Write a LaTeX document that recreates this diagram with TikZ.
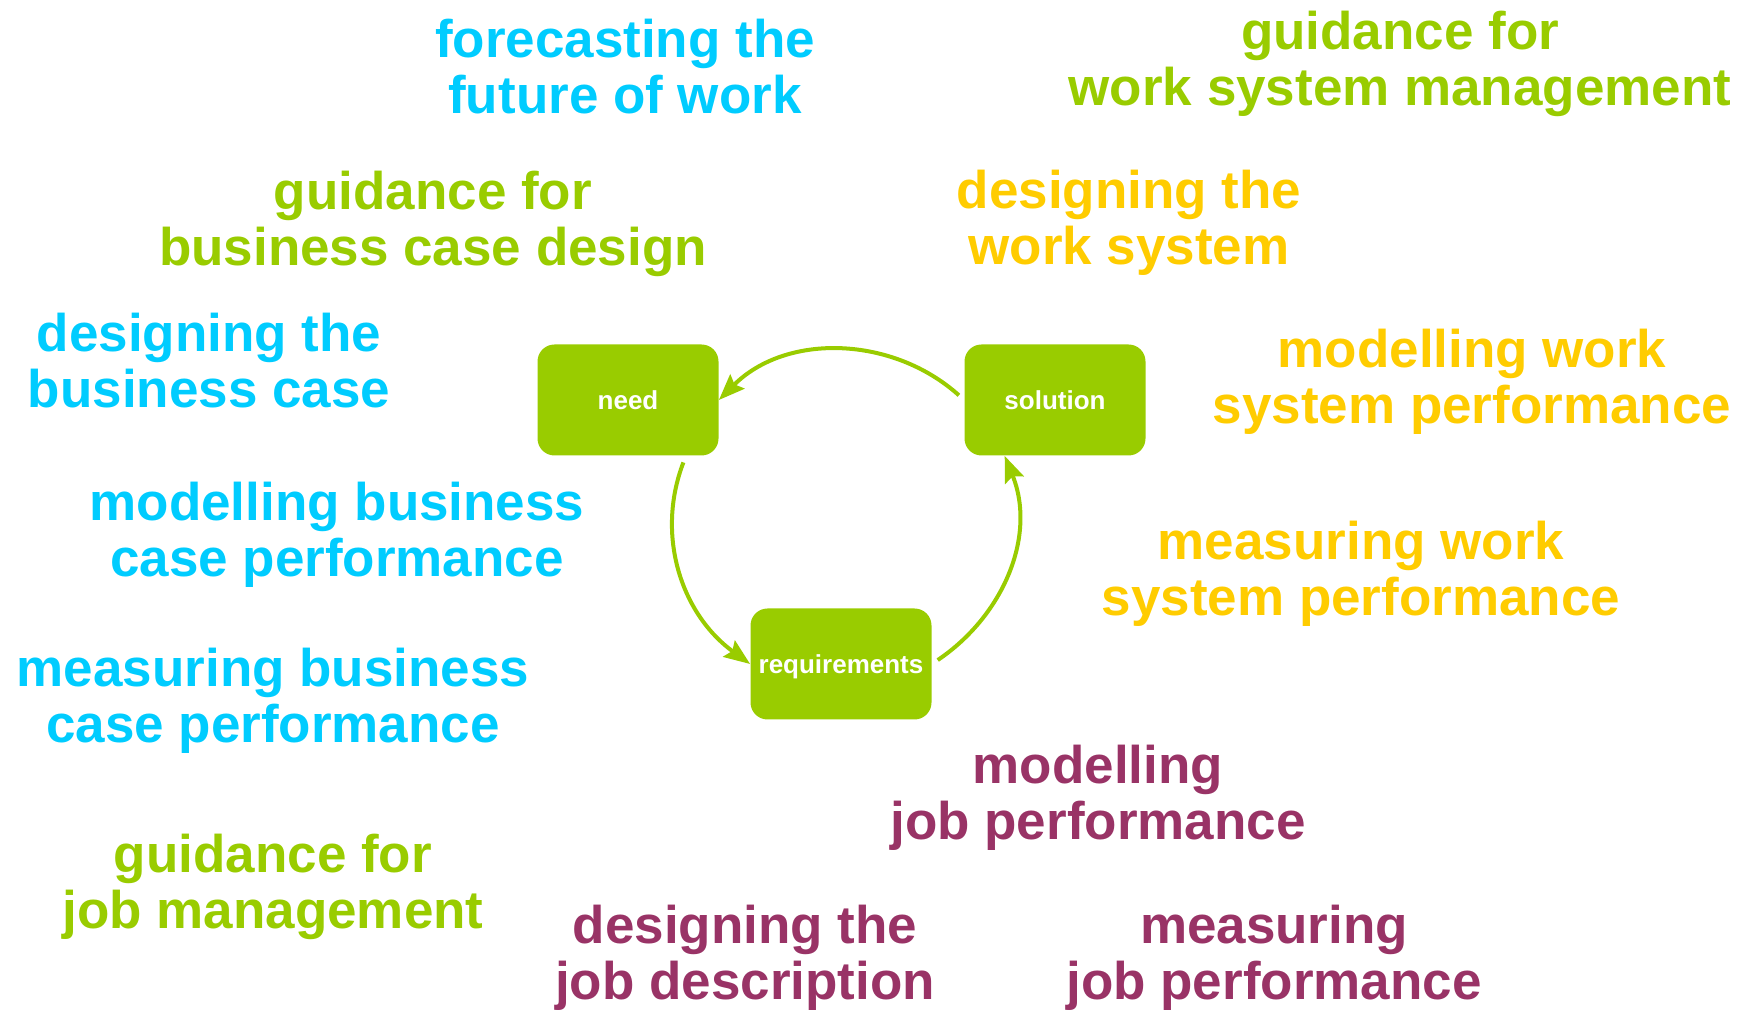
\documentclass[tikz,border=0pt]{standalone}
\usepackage{fontspec}
\setmainfont{Liberation Sans}
\usepackage{tikz}
\definecolor{skyblue}{HTML}{00CCFF}
\definecolor{leafgreen}{HTML}{99CC00}
\definecolor{sungold}{HTML}{FFCC00}
\definecolor{jobplum}{HTML}{993366}
\usetikzlibrary{arrows.meta, positioning}

\begin{document}
\begin{tikzpicture}[
            x=0.5pt, y=0.5pt,
            >={Stealth[length=13pt,width=10pt,inset=2pt]},
                stagebox/.style = {rectangle, rounded corners=8.5pt, fill=leafgreen,
                            minimum width=90.5pt, minimum height=55.5pt, text
                            centered, text=white, text height=10pt, text depth=0pt,
                            font=\fontsize{13}{15}\selectfont\bfseries},
                topic/.style = {anchor=base, align=center, inner sep=0pt,
                            font=\fontsize{26.5}{28}\selectfont\bfseries},
                topicBlue/.style = {topic, text=skyblue},
                topicGreen/.style = {topic, text=leafgreen},
                topicGold/.style = {topic, text=sungold},
                topicPlum/.style = {topic, text=jobplum},
                flow/.style = {->, draw=leafgreen, line width=2pt, shorten <=3.5pt},
            node distance=213.5pt]
            \useasboundingbox (0,0) rectangle (1749,1010);
            \node (need) [stagebox] at (628,610) {need};
            \node (solution) [stagebox, right of=need] {solution};
            \node (requirements) [stagebox, node distance=132pt, below of=need, xshift=106.5pt] {requirements};
            \node (forecast) [topicBlue] at (625,896) {forecasting the\\future of work};
            \node (guideWSM) [topicGreen] at (1400,904) {guidance for\\work system management};
            \node (guideBCD) [topicGreen] at (433,744) {guidance for\\business case design};
            \node (designWS) [topicGold] at (1129,745) {designing the\\work system};
            \node (designBC) [topicBlue] at (209,602) {designing the\\business case};
            \node (modelWSP) [topicGold] at (1472,586) {modelling work\\system performance};
            \node (modelBCP) [topicBlue] at (337,433) {modelling business\\case performance};
            \node (measureWSP) [topicGold] at (1361,394) {measuring work\\system performance};
            \node (measureBCP) [topicBlue] at (273,267) {measuring business\\case performance};
            \node (modelJP) [topicPlum] at (1098,170) {modelling\\job performance};
            \node (guideJM) [topicGreen] at (273,81) {guidance for\\job management};
            \node (designJD) [topicPlum] at (745,10) {designing the\\job description};
            \node (measureJP) [topicPlum] at (1274,10) {measuring\\job performance};
            \draw[flow] (solution.west) to [out=138, in=45] (need.east);
            \draw[flow] (need.-44) to [out=-111, in=144] (requirements.west);
            \draw[flow] (requirements.east) to [out=34, in=-68] (solution.-132);
        \end{tikzpicture}
\end{document}
